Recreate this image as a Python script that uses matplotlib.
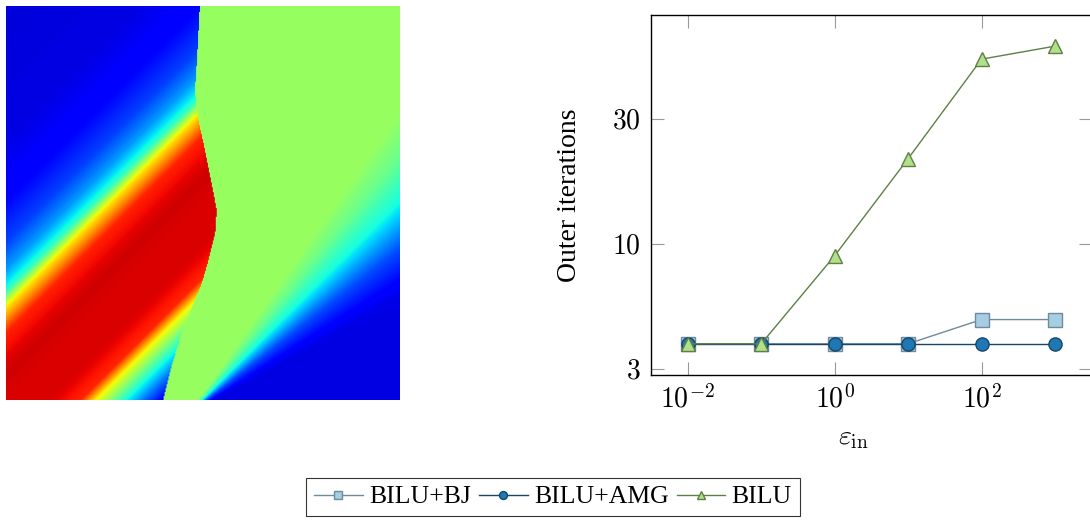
import numpy as np
import matplotlib
matplotlib.use('Agg')
import matplotlib.pyplot as plt
from matplotlib.ticker import FixedLocator, FixedFormatter, NullLocator

plt.rcParams['font.family'] = ['Liberation Serif', 'DejaVu Serif']
plt.rcParams['mathtext.fontset'] = 'cm'

# ---- right panel data ----
eps_in = [1e-2, 1e-1, 1e0, 1e1, 1e2, 1e3]
iters_bj = [4, 4, 4, 4, 5, 5]
iters_amg = [4, 4, 4, 4, 4, 4]
iters_bilu = [4, 4, 9, 22, 55, 62]
labels = ['BILU+BJ', 'BILU+AMG', 'BILU']

# ---- left panel (field) ----
# front position u(v) (normalised coords, v upward)
front_v = [0.0, 0.085, 0.169, 0.254, 0.296, 0.355, 0.423, 0.482, 0.550, 0.635, 0.694, 0.736, 0.787, 0.888, 1.0]
front_u = [0.399, 0.420, 0.446, 0.480, 0.497, 0.514, 0.531, 0.535, 0.522, 0.505, 0.492, 0.484, 0.480, 0.486, 0.492]
# profile left of front across the diagonal w = v - u
left_w = [-1.0, -0.40, -0.35, -0.306, -0.27, -0.23, -0.19, -0.11, 0.0, 0.07, 0.17, 0.237, 0.26, 0.279, 0.33, 0.40, 0.50, 0.65, 1.0]
left_val = [0.08, 0.11, 0.24, 0.375, 0.50, 0.64, 0.87, 0.92, 0.92, 0.93, 0.875, 0.66, 0.52, 0.40, 0.28, 0.19, 0.13, 0.09, 0.08]
# profile right of front (scaled distance to the lower-right band)
right_z = [-10, -2, -1, 0, 1, 2, 10]
right_val = [0.08, 0.09, 0.20, 0.375, 0.48, 0.535, 0.535]

N = 400
u, v = np.meshgrid(np.linspace(0, 1, N), np.linspace(0, 1, N))
w = v - u
left = np.interp(w, left_w, left_val)
sig = np.clip(0.008 + 0.22 * (u - 0.5), 0.008, None)
right = np.interp((w + 0.5) / sig, right_z, right_val)
field = np.where(u > np.interp(v, front_v, front_u), right, left)

fig = plt.figure(figsize=(10.9, 5.21), dpi=100)

ax0 = fig.add_axes([6 / 1090, 1 - 400 / 521, 394 / 1090, 394 / 521])
ax0.imshow(field, extent=[0, 1, 0, 1], origin='lower', cmap='jet',
           vmin=0, vmax=1, interpolation='bilinear', aspect='auto')
ax0.axis('off')

L, R, T, B = 650.7, 1091.7, 15.0, 375.3
ax = fig.add_axes([L / 1090, 1 - B / 521, (R - L) / 1090, (B - T) / 521])

c_bj, e_bj = '#a6cee3', '#6f8a9c'
c_amg, e_amg = '#1f78b4', '#17466b'
c_bilu, e_bilu = '#b2df8a', '#5e8044'

ax.plot(eps_in, iters_bj, color=e_bj, lw=1.0, marker='s', ms=9.5,
        mfc=c_bj, mec=e_bj, mew=1.0, label=labels[0])
ax.plot(eps_in, iters_amg, color=e_amg, lw=1.0, marker='o', ms=9.5,
        mfc=c_amg, mec=e_amg, mew=1.0, label=labels[1])
ax.plot(eps_in, iters_bilu, color=e_bilu, lw=1.0, marker='^', ms=9.5,
        mfc=c_bilu, mec=e_bilu, mew=1.0, label=labels[2])

ax.set_xscale('log')
ax.set_yscale('log')
ax.set_xlim(10 ** -2.505, 10 ** 3.5)
ax.set_ylim(10 ** 0.476, 10 ** 1.917)
ax.xaxis.set_major_locator(FixedLocator([1e-2, 1e0, 1e2]))
ax.xaxis.set_major_formatter(FixedFormatter([r'$10^{-2}$', r'$10^{0}$', r'$10^{2}$']))
ax.xaxis.set_minor_locator(NullLocator())
ax.yaxis.set_major_locator(FixedLocator([10 ** 0.5, 10 ** 1.0, 10 ** 1.5]))
ax.yaxis.set_major_formatter(FixedFormatter([r'$3$', r'$10$', r'$30$']))
ax.yaxis.set_minor_locator(NullLocator())
ax.tick_params(which='major', direction='in', length=9.5, width=0.8, color='#999999',
               top=True, right=True, labelsize=20, pad=7)
for s in ax.spines.values():
    s.set_linewidth(1.0)

ax.set_ylabel('Outer iterations', fontsize=20)
ax.yaxis.set_label_coords(-0.155, 0.5)
ax.set_xlabel(r'$\varepsilon_{\rm in}$', fontsize=20)
ax.xaxis.set_label_coords(0.459, -0.14)

leg = fig.legend(loc='center', bbox_to_anchor=(553 / 1090, 1 - 497 / 521), ncol=3,
                 fontsize=18.5, frameon=True, fancybox=False, edgecolor='black',
                 handlelength=1.9, handletextpad=0.25, columnspacing=0.3,
                 borderpad=0.3, markerscale=0.6)
leg.get_frame().set_linewidth(0.8)

fig.savefig('out.png', dpi=100)
